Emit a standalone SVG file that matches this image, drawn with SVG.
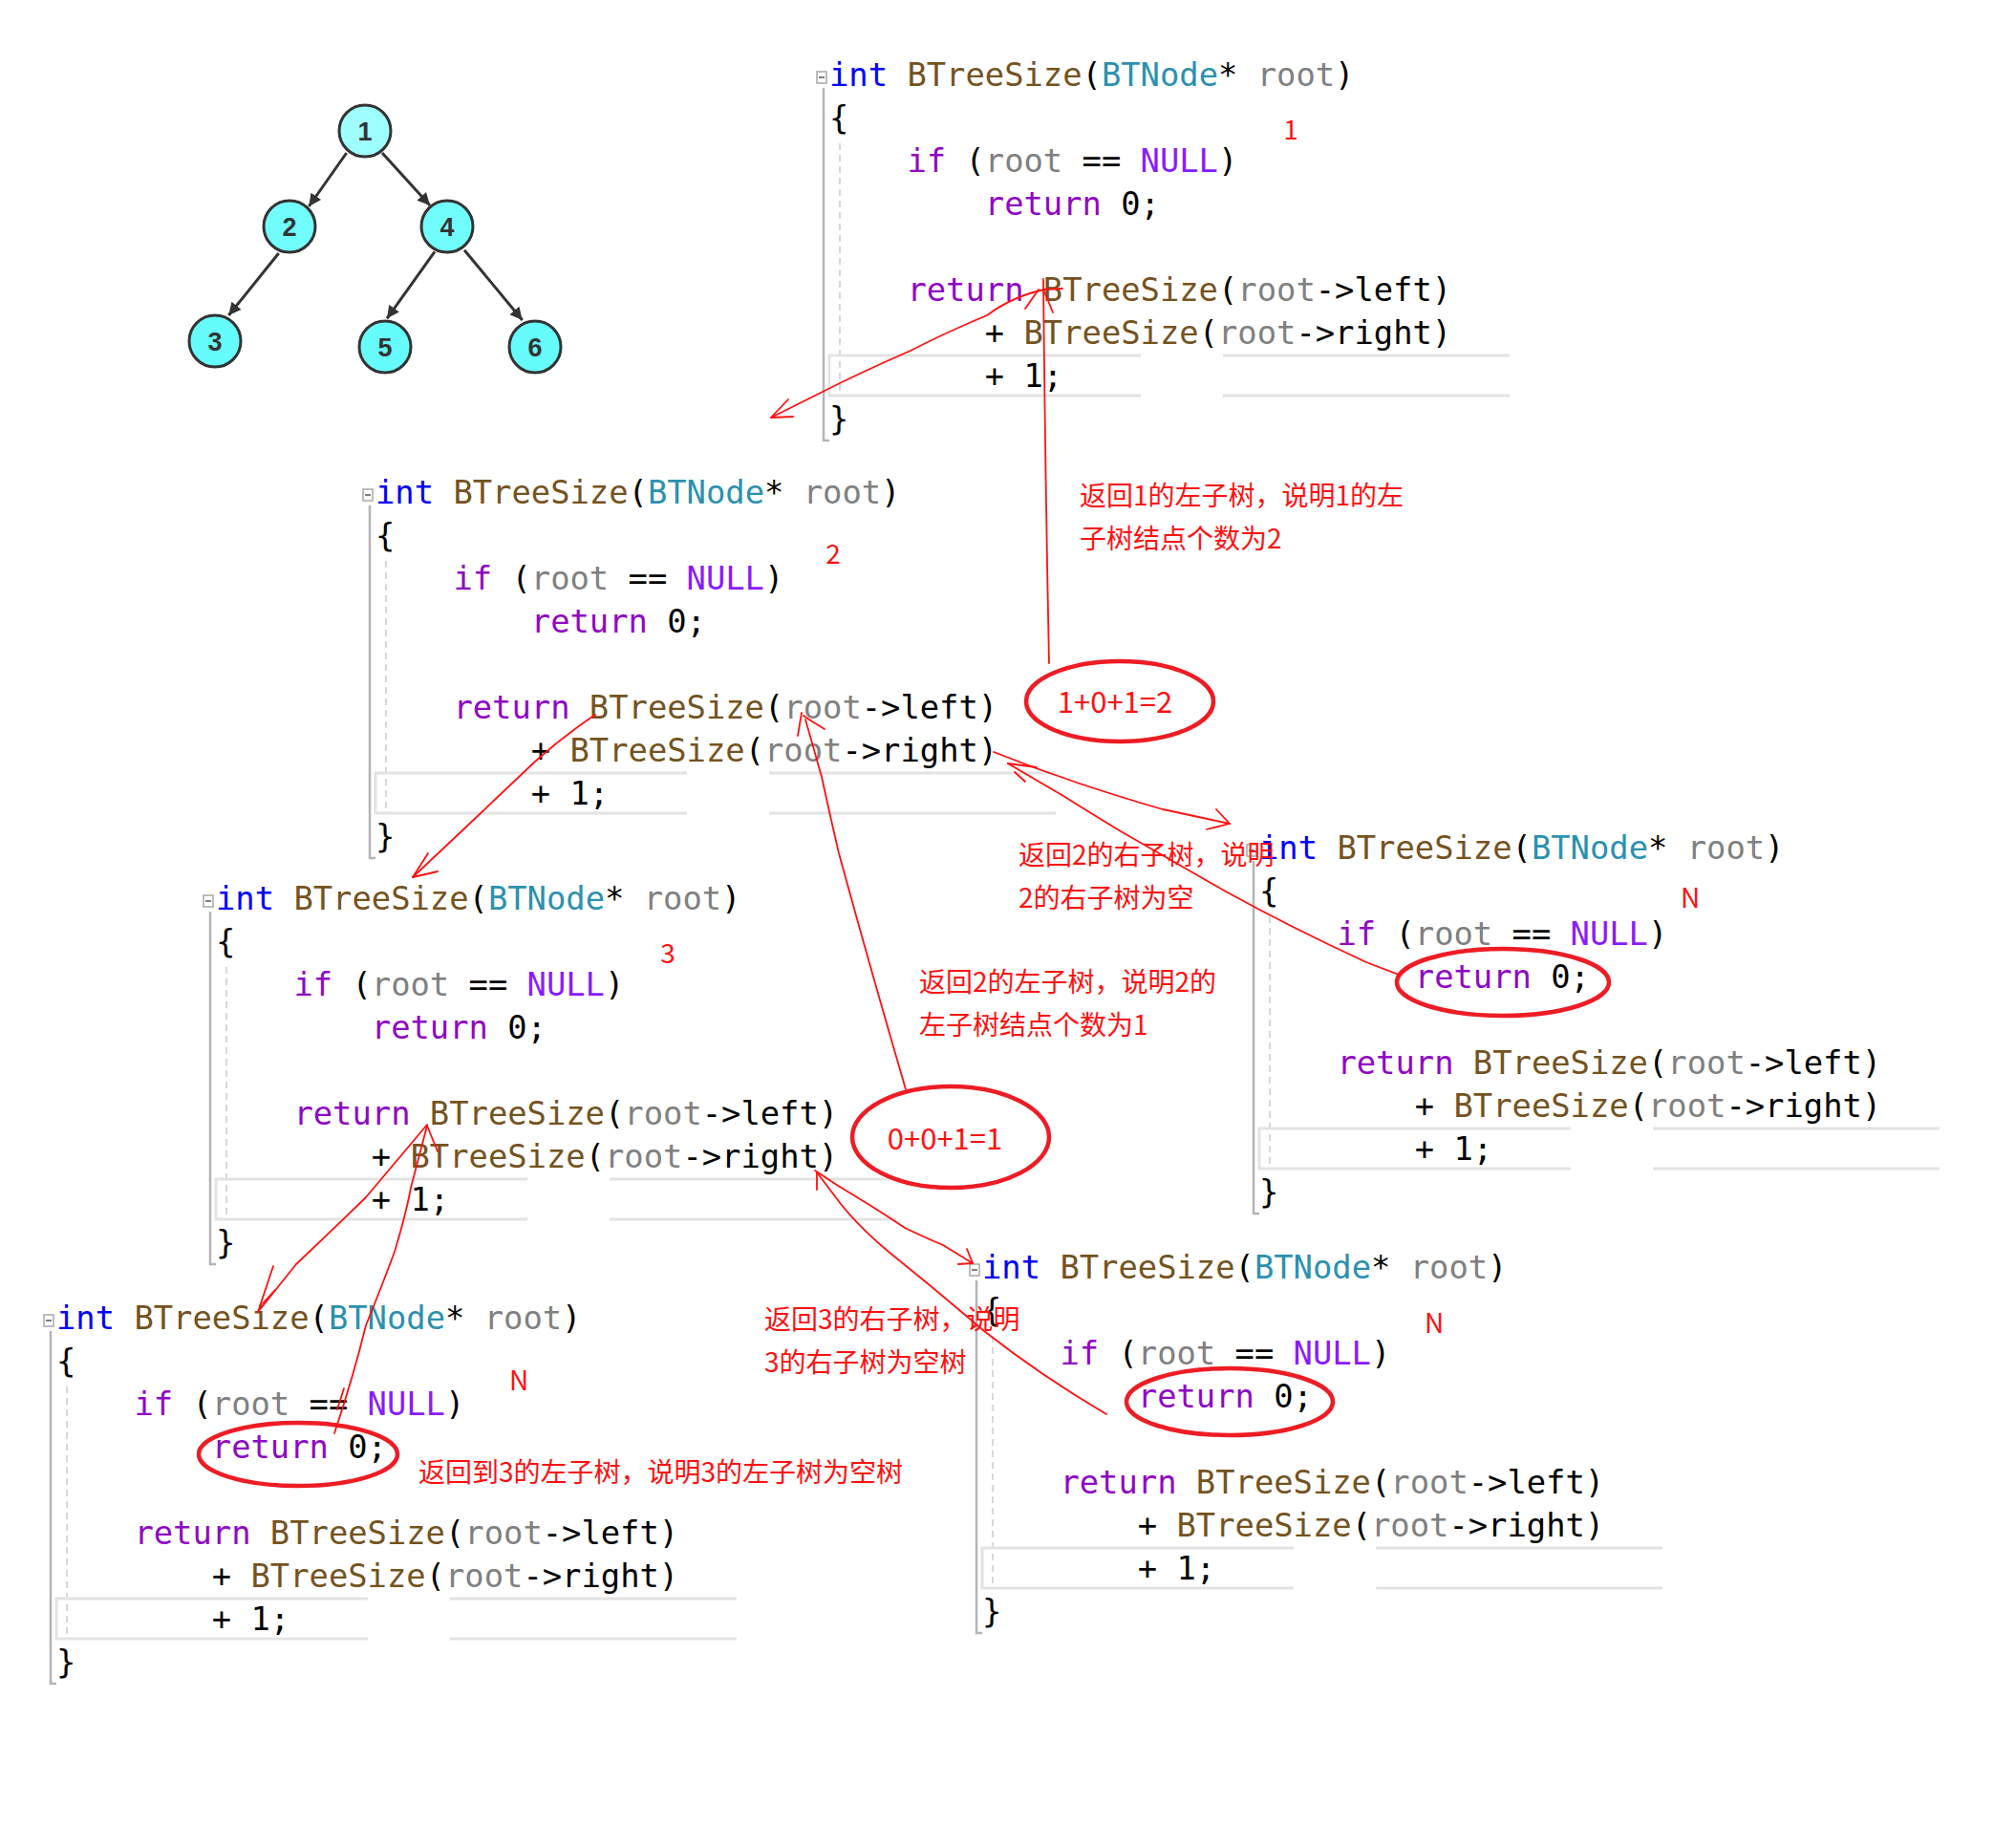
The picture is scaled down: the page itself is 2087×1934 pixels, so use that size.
<svg xmlns="http://www.w3.org/2000/svg" width="2087" height="1934" viewBox="0 0 2087 1934">
<style>
.code{font-family:"DejaVu Sans Mono","Liberation Mono",monospace;font-size:33.8px;fill:#000}
.kw{fill:#0000ff}.fn{fill:#74531f}.ty{fill:#2b91af}.pa{fill:#808080}.ctl{fill:#8f08c4}.mac{fill:#8a1bff}
.gutter{stroke:#b4b4b4;stroke-width:2.5;fill:none}
.guide{stroke:#cccccc;stroke-width:1.5;stroke-dasharray:7 5;fill:none}
.hl{stroke:#e3e3e3;stroke-width:3;fill:none}
.fold{fill:#fff;stroke:#a8a8a8;stroke-width:1.5}
.foldm{stroke:#555;stroke-width:1.5}
.node circle{stroke:#333;stroke-width:3}
.node text{font-family:"Liberation Sans",Arial,sans-serif;font-weight:bold;font-size:27px;fill:#333;text-anchor:middle}
.tedge{stroke:#333;stroke-width:3;fill:none}
.red{font-family:"Noto Sans CJK SC","Liberation Sans",sans-serif;font-size:28px;fill:#ff1010}
.redm{font-family:"Noto Sans CJK SC","Liberation Sans",sans-serif;font-size:28px;fill:#ff1010;text-anchor:middle}
.sum{font-family:"Noto Sans CJK SC","Liberation Sans",sans-serif;font-size:31px;fill:#ff1010;text-anchor:middle}
.ell{fill:none;stroke:#ee1c24;stroke-width:4.5}
.rl{fill:none;stroke:#ff1010;stroke-width:1.8;stroke-linejoin:round;stroke-linecap:round}
</style>
<defs>
<marker id="ah" viewBox="0 0 10 10" refX="10" refY="5" markerWidth="15" markerHeight="13" markerUnits="userSpaceOnUse" orient="auto"><path d="M0,0 L10,5 L0,10 z" fill="#333"/></marker>
</defs>
<rect width="2087" height="1934" fill="#fff"/>

<!-- tree -->
<g id="tree-edges">
<line class="tedge" x1="362.7" y1="160" x2="323.3" y2="216" marker-end="url(#ah)"/>
<line class="tedge" x1="400" y1="160" x2="450" y2="215" marker-end="url(#ah)"/>
<line class="tedge" x1="291.7" y1="265" x2="239.3" y2="330" marker-end="url(#ah)"/>
<line class="tedge" x1="455" y1="263.3" x2="405" y2="333.3" marker-end="url(#ah)"/>
<line class="tedge" x1="486" y1="261.7" x2="546.7" y2="335" marker-end="url(#ah)"/>
</g>
<g id="n1" class="node"><circle cx="382" cy="137" r="27" fill="#9ffefe"/><text x="382" y="147">1</text></g>
<g id="n2" class="node"><circle cx="303" cy="237" r="27" fill="#72fdfd"/><text x="303" y="247">2</text></g>
<g id="n4" class="node"><circle cx="468" cy="237" r="27" fill="#72fdfd"/><text x="468" y="247">4</text></g>
<g id="n3" class="node"><circle cx="225" cy="357" r="27" fill="#66fcfc"/><text x="225" y="367">3</text></g>
<g id="n5" class="node"><circle cx="403" cy="363" r="27" fill="#66fcfc"/><text x="403" y="373">5</text></g>
<g id="n6" class="node"><circle cx="560" cy="363" r="27" fill="#66fcfc"/><text x="560" y="373">6</text></g>

<!-- code blocks -->
<g id="call1" transform="translate(868,90)">
<path class="gutter" d="M-6,2 V371 H0"/><line class="guide" x1="11" y1="60" x2="11" y2="325"/>
<path class="hl" d="M712,282 H412 M326,282 H0 V324 H326 M412,324 H712"/>
<rect class="fold" x="-13" y="-15" width="10" height="12"/><line class="foldm" x1="-11" y1="-9" x2="-5" y2="-9"/>
<g class="code">
<text x="0" y="0"><tspan class="kw">int</tspan> <tspan class="fn">BTreeSize</tspan>(<tspan class="ty">BTNode</tspan>* <tspan class="pa">root</tspan>)</text>
<text x="0" y="45">{</text>
<text x="81.4" y="90"><tspan class="ctl">if</tspan> (<tspan class="pa">root</tspan> == <tspan class="mac">NULL</tspan>)</text>
<text x="162.8" y="135"><tspan class="ctl">return</tspan> 0;</text>
<text x="81.4" y="225"><tspan class="ctl">return</tspan> <tspan class="fn">BTreeSize</tspan>(<tspan class="pa">root</tspan>-&gt;left)</text>
<text x="162.8" y="270">+ <tspan class="fn">BTreeSize</tspan>(<tspan class="pa">root</tspan>-&gt;right)</text>
<text x="162.8" y="315">+ 1;</text>
<text x="0" y="360">}</text>
</g></g>

<g id="call2" transform="translate(393,527)">
<path class="gutter" d="M-6,2 V371 H0"/><line class="guide" x1="11" y1="60" x2="11" y2="325"/>
<path class="hl" d="M712,282 H412 M326,282 H0 V324 H326 M412,324 H712"/>
<rect class="fold" x="-13" y="-15" width="10" height="12"/><line class="foldm" x1="-11" y1="-9" x2="-5" y2="-9"/>
<g class="code">
<text x="0" y="0"><tspan class="kw">int</tspan> <tspan class="fn">BTreeSize</tspan>(<tspan class="ty">BTNode</tspan>* <tspan class="pa">root</tspan>)</text>
<text x="0" y="45">{</text>
<text x="81.4" y="90"><tspan class="ctl">if</tspan> (<tspan class="pa">root</tspan> == <tspan class="mac">NULL</tspan>)</text>
<text x="162.8" y="135"><tspan class="ctl">return</tspan> 0;</text>
<text x="81.4" y="225"><tspan class="ctl">return</tspan> <tspan class="fn">BTreeSize</tspan>(<tspan class="pa">root</tspan>-&gt;left)</text>
<text x="162.8" y="270">+ <tspan class="fn">BTreeSize</tspan>(<tspan class="pa">root</tspan>-&gt;right)</text>
<text x="162.8" y="315">+ 1;</text>
<text x="0" y="360">}</text>
</g></g>

<g id="call3" transform="translate(226,952)">
<path class="gutter" d="M-6,2 V371 H0"/><line class="guide" x1="11" y1="60" x2="11" y2="325"/>
<path class="hl" d="M712,282 H412 M326,282 H0 V324 H326 M412,324 H712"/>
<rect class="fold" x="-13" y="-15" width="10" height="12"/><line class="foldm" x1="-11" y1="-9" x2="-5" y2="-9"/>
<g class="code">
<text x="0" y="0"><tspan class="kw">int</tspan> <tspan class="fn">BTreeSize</tspan>(<tspan class="ty">BTNode</tspan>* <tspan class="pa">root</tspan>)</text>
<text x="0" y="45">{</text>
<text x="81.4" y="90"><tspan class="ctl">if</tspan> (<tspan class="pa">root</tspan> == <tspan class="mac">NULL</tspan>)</text>
<text x="162.8" y="135"><tspan class="ctl">return</tspan> 0;</text>
<text x="81.4" y="225"><tspan class="ctl">return</tspan> <tspan class="fn">BTreeSize</tspan>(<tspan class="pa">root</tspan>-&gt;left)</text>
<text x="162.8" y="270">+ <tspan class="fn">BTreeSize</tspan>(<tspan class="pa">root</tspan>-&gt;right)</text>
<text x="162.8" y="315">+ 1;</text>
<text x="0" y="360">}</text>
</g></g>

<g id="call3-left-null" transform="translate(59,1391)">
<path class="gutter" d="M-6,2 V371 H0"/><line class="guide" x1="11" y1="60" x2="11" y2="325"/>
<path class="hl" d="M712,282 H412 M326,282 H0 V324 H326 M412,324 H712"/>
<rect class="fold" x="-13" y="-15" width="10" height="12"/><line class="foldm" x1="-11" y1="-9" x2="-5" y2="-9"/>
<g class="code">
<text x="0" y="0"><tspan class="kw">int</tspan> <tspan class="fn">BTreeSize</tspan>(<tspan class="ty">BTNode</tspan>* <tspan class="pa">root</tspan>)</text>
<text x="0" y="45">{</text>
<text x="81.4" y="90"><tspan class="ctl">if</tspan> (<tspan class="pa">root</tspan> == <tspan class="mac">NULL</tspan>)</text>
<text x="162.8" y="135"><tspan class="ctl">return</tspan> 0;</text>
<text x="81.4" y="225"><tspan class="ctl">return</tspan> <tspan class="fn">BTreeSize</tspan>(<tspan class="pa">root</tspan>-&gt;left)</text>
<text x="162.8" y="270">+ <tspan class="fn">BTreeSize</tspan>(<tspan class="pa">root</tspan>-&gt;right)</text>
<text x="162.8" y="315">+ 1;</text>
<text x="0" y="360">}</text>
</g></g>

<g id="call2-right-null" transform="translate(1318,899)">
<path class="gutter" d="M-6,2 V371 H0"/><line class="guide" x1="11" y1="60" x2="11" y2="325"/>
<path class="hl" d="M712,282 H412 M326,282 H0 V324 H326 M412,324 H712"/>
<rect class="fold" x="-13" y="-15" width="10" height="12"/><line class="foldm" x1="-11" y1="-9" x2="-5" y2="-9"/>
<g class="code">
<text x="0" y="0"><tspan class="kw">int</tspan> <tspan class="fn">BTreeSize</tspan>(<tspan class="ty">BTNode</tspan>* <tspan class="pa">root</tspan>)</text>
<text x="0" y="45">{</text>
<text x="81.4" y="90"><tspan class="ctl">if</tspan> (<tspan class="pa">root</tspan> == <tspan class="mac">NULL</tspan>)</text>
<text x="162.8" y="135"><tspan class="ctl">return</tspan> 0;</text>
<text x="81.4" y="225"><tspan class="ctl">return</tspan> <tspan class="fn">BTreeSize</tspan>(<tspan class="pa">root</tspan>-&gt;left)</text>
<text x="162.8" y="270">+ <tspan class="fn">BTreeSize</tspan>(<tspan class="pa">root</tspan>-&gt;right)</text>
<text x="162.8" y="315">+ 1;</text>
<text x="0" y="360">}</text>
</g></g>

<g id="call3-right-null" transform="translate(1028,1338)">
<path class="gutter" d="M-6,2 V371 H0"/><line class="guide" x1="11" y1="60" x2="11" y2="325"/>
<path class="hl" d="M712,282 H412 M326,282 H0 V324 H326 M412,324 H712"/>
<rect class="fold" x="-13" y="-15" width="10" height="12"/><line class="foldm" x1="-11" y1="-9" x2="-5" y2="-9"/>
<g class="code">
<text x="0" y="0"><tspan class="kw">int</tspan> <tspan class="fn">BTreeSize</tspan>(<tspan class="ty">BTNode</tspan>* <tspan class="pa">root</tspan>)</text>
<text x="0" y="45">{</text>
<text x="81.4" y="90"><tspan class="ctl">if</tspan> (<tspan class="pa">root</tspan> == <tspan class="mac">NULL</tspan>)</text>
<text x="162.8" y="135"><tspan class="ctl">return</tspan> 0;</text>
<text x="81.4" y="225"><tspan class="ctl">return</tspan> <tspan class="fn">BTreeSize</tspan>(<tspan class="pa">root</tspan>-&gt;left)</text>
<text x="162.8" y="270">+ <tspan class="fn">BTreeSize</tspan>(<tspan class="pa">root</tspan>-&gt;right)</text>
<text x="162.8" y="315">+ 1;</text>
<text x="0" y="360">}</text>
</g></g>

<!-- red annotations -->
<g id="labels">
<text class="redm" x="1351" y="146">1</text>
<text class="redm" x="872" y="590">2</text>
<text class="redm" x="699" y="1008">3</text>
<text class="redm" x="1769" y="950">N</text>
<text class="redm" x="1501" y="1395">N</text>
<text class="redm" x="543" y="1455">N</text>
<text class="red" x="1130" y="529">返回1的左子树，说明1的左</text>
<text class="red" x="1130" y="574">子树结点个数为2</text>
<text class="red" x="1066" y="905">返回2的右子树，说明</text>
<text class="red" x="1066" y="950">2的右子树为空</text>
<text class="red" x="962" y="1038">返回2的左子树，说明2的</text>
<text class="red" x="962" y="1083">左子树结点个数为1</text>
<text class="red" x="800" y="1391">返回3的右子树，说明</text>
<text class="red" x="800" y="1436">3的右子树为空树</text>
<text class="red" x="438" y="1551">返回到3的左子树，说明3的左子树为空树</text>
</g>
<g id="sum2"><ellipse class="ell" cx="1172" cy="734" rx="98" ry="42"/><text class="sum" x="1167" y="746">1+0+1=2</text></g>
<g id="sum1"><ellipse class="ell" cx="995" cy="1190" rx="103" ry="53"/><text class="sum" x="989" y="1203">0+0+1=1</text></g>
<g id="ret-null-a"><ellipse class="ell" cx="1573" cy="1028" rx="111" ry="35"/></g>
<g id="ret-null-b"><ellipse class="ell" cx="1287" cy="1467" rx="108" ry="35"/></g>
<g id="ret-null-c"><ellipse class="ell" cx="312" cy="1522" rx="104" ry="33"/></g>

<g id="red-arrows" class="rl">
<path d="M1112,302 L1093,303 Q1060,310 1033,330 Q990,348 953,367 Q900,390 857,412 L807,437"/>
<path d="M825,418 L807,437 L830,436"/>
<path d="M1098,694 Q1094,500 1092,292"/>
<path d="M1073,323 L1087,303 M1102,327 L1093,305"/>
<path d="M623,748 Q590,770 560,797 Q520,835 483,870 L432,918"/>
<path d="M448,893 L432,918 L458,912"/>
<path d="M948,1140 Q910,1010 878,893 Q868,850 860,813 L843,753"/>
<path d="M835,770 L839,746 M863,763 L850,755 L841,749"/>
<path d="M1040,787 Q1085,805 1130,820 Q1175,835 1217,847 L1287,862"/>
<path d="M1273,847 L1287,862 L1263,868"/>
<path d="M1464,1020 L1430,1007 Q1350,970 1283,933 Q1225,900 1173,870 Q1140,850 1113,833 L1055,799"/>
<path d="M1055,799 L1085,803 M1062,808 L1073,818"/>
<path d="M447,1177 Q415,1215 383,1253 Q345,1290 310,1323 L270,1373"/>
<path d="M286,1325 L270,1373 M288,1350 L275,1364"/>
<path d="M350,1500 Q370,1440 383,1387 Q400,1345 413,1310 Q425,1270 430,1243 L447,1178"/>
<path d="M458,1205 L447,1178 M360,1453 L353,1475"/>
<path d="M853,1225 Q875,1240 897,1253 Q925,1270 947,1285 Q970,1296 987,1303 L1018,1322"/>
<path d="M1012,1307 L1018,1322 L1003,1323"/>
<path d="M1158,1480 Q1090,1440 1030,1393 Q980,1350 930,1310 Q900,1285 880,1260 L855,1227"/>
<path d="M855,1245 L855,1227"/>
</g>
</svg>
